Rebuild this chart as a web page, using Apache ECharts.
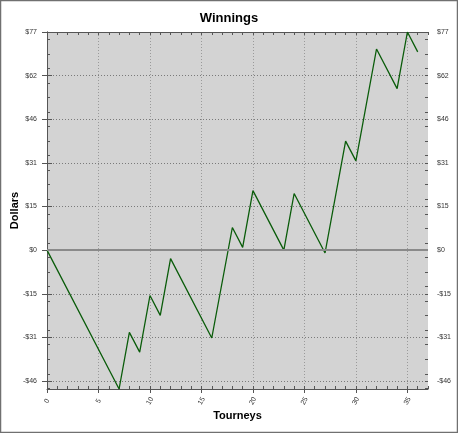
<!DOCTYPE html>
<html>
<head>
<meta charset="utf-8">
<script src="https://cdn.jsdelivr.net/npm/echarts@6/dist/echarts.min.js"></script>
<style>
  html, body { margin: 0; padding: 0; background: #fff; }
  #chart { width: 458px; height: 433px; }
</style>
</head>
<body>
<div id="chart"></div>
<script>
// ---- data ----
const tourneys = [0, 7, 8, 9, 10, 11, 12, 16, 18, 19, 20, 23, 24, 27, 29, 30, 32, 34, 35, 36];
const dollars  = [0, -49, -29, -36, -16, -23, -3, -31, 8, 1, 21, 0, 20, -1, 38.5, 31.5, 71, 57, 77, 70];

// ---- axis ticks ----
const xTickLabels = [0, 5, 10, 15, 20, 25, 30, 35];
const xMinorTicks = [0,1,2,3,4,5,6,7,8,9,10,11,12,13,14,15,16,17,18,19,20,21,22,23,24,25,26,27,28,29,30,31,32,33,34,35,36,37];
const yTickValues = [-46.2, -30.8, -15.4, 0, 15.4, 30.8, 46.2, 61.6, 77];
const yMinorTicks = [-48.77, -43.63, -38.5, -33.37, -28.23, -23.1, -17.97, -12.83, -7.7, -2.57,
                     2.57, 7.7, 12.83, 17.97, 23.1, 28.23, 33.37, 38.5, 43.63, 48.77, 53.9, 59.03, 64.17, 69.3, 74.43];

const X_MIN = 0, X_MAX = 37, Y_MIN = -49, Y_MAX = 77;

const FONT = 'Liberation Sans';
const AX = '#555';

function money(v) {
  const r = Math.round(Math.abs(v));
  return (v < 0 ? '-' : '') + '$' + r;
}

const chart = echarts.init(document.getElementById('chart'), null, { renderer: 'canvas' });

const yBase = {
  type: 'value', min: Y_MIN, max: Y_MAX,
  axisLine: { show: true, lineStyle: { color: AX, width: 1 } },
};

chart.setOption({
  animation: false,
  backgroundColor: '#fff',
  title: {
    text: 'Winnings', left: 'center', top: 7,
    textStyle: { fontFamily: FONT, fontSize: 13, fontWeight: 'bold', color: '#000' }
  },
  graphic: [{
    type: 'rect', silent: true, z: 100,
    shape: { x: 0.5, y: 0.5, width: 457, height: 432 },
    style: { fill: 'none', stroke: '#707070', lineWidth: 1.5 }
  }],
  grid: {
    left: 47, top: 32, right: 30, bottom: 44,
    containLabel: false, outerBoundsMode: 'none',
    show: true, backgroundColor: '#d3d3d3', borderWidth: 0
  },
  xAxis: [
    {
      type: 'value', min: X_MIN, max: X_MAX, position: 'bottom',
      name: 'Tourneys', nameLocation: 'middle', nameGap: 21, nameMoveOverlap: false,
      nameTextStyle: { fontFamily: FONT, fontSize: 11, fontWeight: 'bold', color: '#000' },
      axisLine: { show: true, onZero: false, lineStyle: { color: AX } },
      axisTick: { show: true, inside: false, length: 4, customValues: xTickLabels, lineStyle: { color: AX } },
      axisLabel: {
        customValues: xTickLabels, rotate: 60, margin: 12,
        align: 'center', verticalAlign: 'middle',
        fontFamily: FONT, fontSize: 7, color: '#333'
      },
      splitLine: { show: true, lineStyle: { color: '#9a9a9a', type: [1, 2], width: 1 } }
    },
    {
      type: 'value', min: X_MIN, max: X_MAX, position: 'bottom',
      axisLine: { show: false, onZero: false },
      axisTick: { show: true, inside: true, length: 3, customValues: xMinorTicks, lineStyle: { color: AX } },
      axisLabel: { show: false },
      splitLine: { show: false }
    },
    {
      type: 'value', min: X_MIN, max: X_MAX, position: 'top',
      axisLine: { show: true, onZero: false, lineStyle: { color: AX } },
      axisTick: { show: true, inside: true, length: 3, customValues: xMinorTicks, lineStyle: { color: AX } },
      axisLabel: { show: false },
      splitLine: { show: false }
    }
  ],
  yAxis: [
    Object.assign({}, yBase, {
      position: 'left',
      name: 'Dollars', nameLocation: 'middle', nameGap: 27, nameRotate: 90, nameMoveOverlap: false,
      nameTextStyle: { fontFamily: FONT, fontSize: 11, fontWeight: 'bold', color: '#000' },
      axisTick: { show: true, inside: false, length: 5, customValues: yTickValues, lineStyle: { color: AX } },
      axisLabel: { customValues: yTickValues, formatter: money, margin: 10, fontFamily: FONT, fontSize: 7, color: '#333' },
      splitLine: { show: true, lineStyle: { color: '#7a7a7a', type: [1, 2], width: 1 } }
    }),
    Object.assign({}, yBase, {
      position: 'left',
      axisLine: { show: false },
      axisTick: { show: true, inside: true, length: 3, customValues: yTickValues.concat(yMinorTicks), lineStyle: { color: AX } },
      axisLabel: { show: false },
      splitLine: { show: false }
    }),
    Object.assign({}, yBase, {
      position: 'right',
      axisTick: { show: true, inside: false, length: 5, customValues: yTickValues, lineStyle: { color: AX } },
      axisLabel: { customValues: yTickValues, formatter: money, margin: 9, fontFamily: FONT, fontSize: 7, color: '#333' },
      splitLine: { show: false }
    }),
    Object.assign({}, yBase, {
      position: 'right',
      axisLine: { show: false },
      axisTick: { show: true, inside: true, length: 3, customValues: yTickValues.concat(yMinorTicks), lineStyle: { color: AX } },
      axisLabel: { show: false },
      splitLine: { show: false }
    })
  ],
  series: [
    {
      type: 'line', xAxisIndex: 0, yAxisIndex: 0, z: 1,
      data: [[0, 0]], showSymbol: false, silent: true,
      lineStyle: { opacity: 0 },
      markLine: {
        silent: true, symbol: 'none', animation: false,
        label: { show: false },
        lineStyle: { color: '#8a8a8a', width: 2, type: 'solid' },
        data: [{ yAxis: 0 }]
      }
    },
    {
      type: 'line', xAxisIndex: 0, yAxisIndex: 0, z: 3,
      data: tourneys.map((t, i) => [t, dollars[i]]),
      showSymbol: false, symbol: 'none',
      lineStyle: { color: '#0a5c0a', width: 1.3 }
    }
  ]
});
</script>
</body>
</html>
